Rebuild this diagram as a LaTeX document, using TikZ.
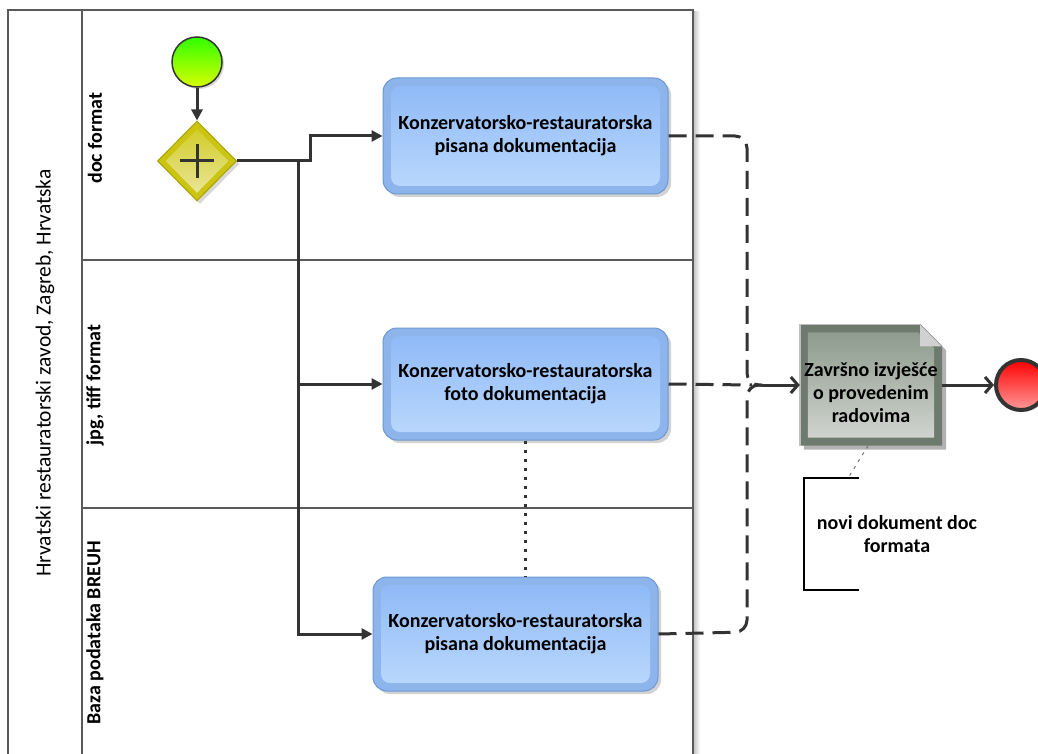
\documentclass[tikz,border=0pt]{standalone}
\usepackage{fontspec}
\setmainfont{Carlito}
\usetikzlibrary{shapes.geometric,arrows.meta,shadows,calc}

\definecolor{ink}{HTML}{333333}
\definecolor{poolline}{HTML}{5A5A5A}
\definecolor{taskedge}{HTML}{6E98D2}
\definecolor{taskouter}{HTML}{8DB5EC}
\definecolor{tasktop}{HTML}{8CB8F6}
\definecolor{taskbot}{HTML}{BCD9FD}
\definecolor{gwedge}{HTML}{A8A200}
\definecolor{gwouter}{HTML}{CBC512}
\definecolor{gwtop}{HTML}{CFCA1C}
\definecolor{gwbot}{HTML}{ECE8A4}
\definecolor{docouter}{HTML}{6F7A6F}
\definecolor{doctop}{HTML}{8E9B8D}
\definecolor{docbot}{HTML}{D0D4CF}

\tikzset{
  x=1pt, y=-1pt,
  every node/.style={font=\fontsize{20}{23}\selectfont},
  taskbox/.style={rectangle, rounded corners=14pt, draw=taskedge, line width=1pt,
    fill=taskouter, minimum width=285pt, align=center, font=\fontsize{20}{23}\selectfont\bfseries,
    drop shadow={shadow xshift=3pt, shadow yshift=-3pt, opacity=0.35},
    path picture={\shade[top color=tasktop, bottom color=taskbot, rounded corners=9pt]
      ([shift={(8pt,-8pt)}]path picture bounding box.north west) rectangle
      ([shift={(-8pt,8pt)}]path picture bounding box.south east);}},
  flow/.style={draw=ink, line width=3pt, -{Triangle[length=11pt,width=11pt]}},
  msgflow/.style={draw=ink, line width=3pt, dash pattern=on 18pt off 9pt},
  openflow/.style={draw=ink, line width=3pt, -{Straight Barb[length=7pt,width=16pt,line width=3pt]}},
  lanelabel/.style={rotate=90, font=\fontsize{20}{23}\selectfont\bfseries},
}

\begin{document}
\begin{tikzpicture}
\useasboundingbox (0,0) rectangle (1038,754);
\clip (0,0) rectangle (1038,754);
\fill[white] (0,0) rectangle (1038,754);

% pool with three lanes
\shade[left color=black!25, right color=white] (693,12) rectangle (700,770);
\draw[poolline, line width=1.5pt] (8,10) rectangle (693,770);
\draw[poolline, line width=1.5pt] (82,10) -- (82,770);
\draw[poolline, line width=1.2pt] (82,260) -- (693,260);
\draw[poolline, line width=1.2pt] (82,508) -- (693,508);

\node[rotate=90, font=\fontsize{21.5}{24}\selectfont] (pool) at (45,373) {Hrvatski restauratorski zavod, Zagreb, Hrvatska};
\node[lanelabel] (lane1) at (95,138) {doc format};
\node[lanelabel] (lane2) at (95,385) {jpg, tiff format};
\node[lanelabel] (lane3) at (95,633) {Baza podataka BREUH};

% start event and parallel gateway
\node[circle, minimum size=50pt, inner sep=0pt, draw=ink, line width=1.5pt,
  top color=green!75!lime, bottom color=lime!60!yellow,
  drop shadow={shadow xshift=2pt, shadow yshift=-2pt, opacity=0.3}] (s) at (197,62) {};
\node[diamond, minimum width=79pt, minimum height=80pt, inner sep=0pt, draw=gwedge,
  line width=1pt, fill=gwouter,
  drop shadow={shadow xshift=3pt, shadow yshift=-3pt, opacity=0.3},
  path picture={\shade[top color=gwtop, bottom color=gwbot]
    ($(path picture bounding box.north)+(0,-8pt)$) -- ($(path picture bounding box.east)+(-8pt,0)$) --
    ($(path picture bounding box.south)+(0,8pt)$) -- ($(path picture bounding box.west)+(8pt,0)$) -- cycle;}] (g) at (197,161) {};
\draw[ink, line width=3pt] ($(g.center)+(-17,0)$) -- ($(g.center)+(17,0)$);
\draw[ink, line width=3pt] ($(g.center)+(0,-17)$) -- ($(g.center)+(0,17)$);

% tasks
\node[taskbox, minimum height=116pt] (t1) at (525.5,136) {Konzervatorsko-restauratorska\\pisana dokumentacija};
\node[taskbox, minimum height=112pt] (t2) at (525.5,384) {Konzervatorsko-restauratorska\\foto dokumentacija};
\node[taskbox, minimum height=114pt] (t3) at (515.5,634) {Konzervatorsko-restauratorska\\pisana dokumentacija};

% data object
\node[rectangle, minimum width=142pt, minimum height=121pt, inner sep=0pt] (d) at (871,385) {};
\fill[black, opacity=0.3] ([shift={(4pt,-4pt)}]d.north west) -- ([shift={(-18pt,-4pt)}]d.north east)
  -- ([shift={(4pt,-26pt)}]d.north east) -- ([shift={(4pt,-4pt)}]d.south east) -- ([shift={(4pt,-4pt)}]d.south west) -- cycle;
\fill[docouter] (d.north west) -- ([xshift=-22pt]d.north east) -- ([yshift=-22pt]d.north east)
  -- (d.south east) -- (d.south west) -- cycle;
\draw[black!25, line width=1.5pt] (d.south west) -- (d.north west) -- ([xshift=-22pt]d.north east);
\shade[top color=doctop, bottom color=docbot] ([shift={(8pt,-8pt)}]d.north west) -- ([shift={(-24pt,-8pt)}]d.north east)
  -- ([shift={(-8pt,-24pt)}]d.north east) -- ([shift={(-8pt,8pt)}]d.south east) -- ([shift={(8pt,8pt)}]d.south west) -- cycle;
\fill[black!18] ([xshift=-22pt]d.north east) -- ([yshift=-22pt]d.north east) -- ([shift={(-22pt,-22pt)}]d.north east) -- cycle;
\draw[black!40, line width=0.8pt] ([xshift=-22pt]d.north east) -- ([yshift=-22pt]d.north east);
\node[align=center, font=\fontsize{20}{23}\selectfont\bfseries] (dtext) at (871,393) {Završno izvješće\\o provedenim\\radovima};

% end event
\node[circle, minimum size=50pt, inner sep=0pt, draw=ink, line width=4pt,
  top color=red, bottom color=red!40!white,
  drop shadow={shadow xshift=2pt, shadow yshift=-2pt, opacity=0.3}] (e) at (1021,385) {};

% text annotation
\node[minimum width=55pt, minimum height=112pt, inner sep=0pt] (annbox) at (831.5,534) {};
\draw[black, line width=2pt] (annbox.north east) -- (annbox.north west) -- (annbox.south west) -- (annbox.south east);
\node[align=center, font=\fontsize{20}{23}\selectfont\bfseries] (ann) at (897,534) {novi dokument doc\\formata};
\draw[black!55, line width=1pt, dash pattern=on 3pt off 5pt] ([xshift=-3pt]d.south) -- ([xshift=-11pt]annbox.north east);

% sequence flows
\coordinate (j) at (298,161);
\draw[flow] (s.south) -- (g.north);
\draw[flow] (g.east) -- (310,161) |- (t1.west);
\draw[flow] (j) |- (t3.west);
\draw[flow] (j |- t2.west) -- (t2.west);
\draw[openflow] (d.east) -- (e.west);

% association between the two documentation tasks
\draw[ink, line width=3pt, dash pattern=on 3pt off 6pt] (t2.south) -- (t2.south |- t3.north);

% message flows into the final report
\coordinate (m) at (762,385);
\draw[msgflow, rounded corners=12pt] (t1.east) -- (747,136) -- (747,385) -- (m);
\draw[msgflow, rounded corners=12pt] (t3.east) -- (747,632) -- (747,385) -- (m);
\draw[msgflow] (t2.east) -- (752,385);
\draw[openflow] (m) -- (d.west);
\end{tikzpicture}
\end{document}
